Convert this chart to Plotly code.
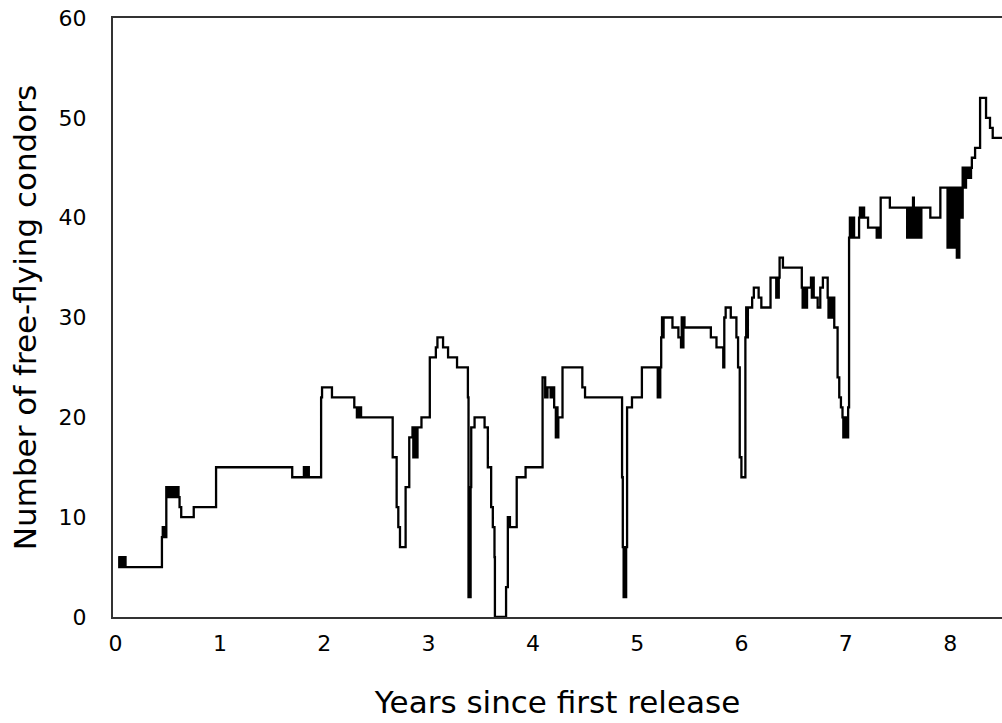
import plotly.graph_objects as go

# Years since first release (start of each step)
years = [
    0.025, 0.035, 0.045, 0.055, 0.065, 0.075, 0.085, 0.095, 0.105,
    0.444, 0.452, 0.460, 0.468, 0.476,
    0.486, 0.496, 0.506, 0.516, 0.526, 0.536, 0.546, 0.556, 0.566, 0.576, 0.584,
    0.603, 0.613, 0.629, 0.749, 0.963, 1.693,
    1.805, 1.815, 1.825, 1.835, 1.845, 1.852,
    1.970, 1.979, 2.074, 2.288,
    2.313, 2.323, 2.333, 2.343, 2.353,
    2.656, 2.694, 2.710, 2.726, 2.780, 2.815,
    2.846, 2.854, 2.862, 2.870, 2.878, 2.886, 2.894,
    2.932, 3.012, 3.070, 3.085, 3.139, 3.187, 3.273,
    3.377, 3.383, 3.390, 3.397, 3.403, 3.409,
    3.441, 3.537, 3.568, 3.600, 3.616, 3.632, 3.636,
    3.743, 3.760, 3.780, 3.845, 3.930,
    4.093, 4.118, 4.140, 4.170, 4.185, 4.204,
    4.220, 4.228, 4.236, 4.244,
    4.284, 4.474, 4.500,
    4.855, 4.862, 4.870, 4.878, 4.886, 4.894, 4.903,
    4.950, 5.045,
    5.197, 5.205, 5.213, 5.221, 5.230, 5.238, 5.246, 5.253,
    5.338, 5.395, 5.420, 5.427, 5.435, 5.443, 5.453,
    5.706, 5.760, 5.825, 5.835, 5.848, 5.897, 5.951, 5.967, 5.983, 5.999,
    6.037, 6.045, 6.053, 6.061,
    6.102, 6.118, 6.164, 6.190, 6.278,
    6.333, 6.341, 6.349, 6.357,
    6.365, 6.397,
    6.578, 6.586, 6.594, 6.602, 6.610, 6.618, 6.628,
    6.666, 6.674, 6.682, 6.692,
    6.730, 6.755, 6.780,
    6.826, 6.834, 6.842, 6.850, 6.858, 6.866, 6.874,
    6.889, 6.921, 6.937, 6.953,
    6.968, 6.976, 6.984, 6.992, 7.000, 7.008,
    7.022,
    7.031, 7.039, 7.047, 7.055, 7.063, 7.071, 7.079,
    7.127, 7.135, 7.143, 7.151, 7.159, 7.167, 7.175,
    7.213,
    7.296, 7.304, 7.312, 7.320, 7.328,
    7.334, 7.422,
    7.588, 7.596, 7.604, 7.612, 7.620, 7.628, 7.636, 7.644, 7.652, 7.660,
    7.668, 7.676, 7.684, 7.692, 7.700, 7.708, 7.716, 7.724,
    7.810, 7.906,
    7.975, 7.983, 7.991, 7.999, 8.007, 8.015, 8.023, 8.031, 8.039, 8.047,
    8.055, 8.064, 8.072, 8.080, 8.088, 8.096, 8.104, 8.112,
    8.120, 8.128, 8.136, 8.144, 8.152, 8.160, 8.168, 8.176, 8.184, 8.192, 8.200,
    8.208, 8.239, 8.287, 8.344, 8.382, 8.408, 8.497,
]

# Number of free-flying condors at each step
condors = [
    6, 5, 6, 5, 6, 5, 6, 5, 5,
    8, 9, 8, 9, 8,
    13, 12, 13, 12, 13, 12, 13, 12, 13, 12, 13,
    12, 11, 10, 11, 15, 14,
    15, 14, 15, 14, 15, 14,
    22, 23, 22, 21,
    20, 21, 20, 21, 20,
    16, 11, 9, 7, 13, 18,
    19, 16, 19, 16, 19, 16, 19,
    20, 26, 27, 28, 27, 26, 25,
    22, 2, 13, 2, 13, 19,
    20, 19, 15, 11, 9, 6, 0,
    3, 10, 9, 14, 15,
    24, 22, 23, 22, 23, 21,
    18, 21, 18, 20,
    25, 23, 22,
    14, 7, 2, 7, 2, 7, 21,
    22, 25,
    22, 25, 22, 25, 28, 30, 28, 30,
    29, 28, 27, 30, 27, 30, 29,
    28, 27, 25, 30, 31, 30, 28, 25, 16, 14,
    28, 31, 28, 31,
    32, 33, 32, 31, 34,
    32, 34, 32, 34,
    36, 35,
    33, 31, 33, 31, 33, 31, 33,
    34, 32, 34, 32,
    31, 33, 34,
    32, 30, 32, 30, 32, 30, 32,
    29, 24, 22, 21,
    20, 18, 20, 18, 20, 18,
    21,
    38, 40, 38, 40, 38, 40, 38,
    40, 41, 40, 41, 40, 41, 40,
    39,
    38, 39, 38, 39, 38,
    42, 41,
    38, 41, 38, 41, 38, 41, 38, 42, 38, 41,
    38, 41, 38, 41, 38, 41, 38, 41,
    40, 43,
    37, 43, 37, 43, 37, 43, 37, 43, 37, 43,
    37, 36, 43, 36, 43, 40, 43, 40,
    45, 43, 45, 43, 45, 44, 45, 44, 45, 44, 45,
    46, 47, 52, 50, 49, 48, 48,
]

x_ticks = [0, 1, 2, 3, 4, 5, 6, 7, 8]
y_ticks = [0, 10, 20, 30, 40, 50, 60]
x_title = "Years since first release"
y_title = "Number of free-flying condors"

FONT = "DejaVu Sans"

fig = go.Figure()
fig.add_trace(go.Scatter(
    x=years, y=condors, mode="lines",
    line=dict(shape="hv", color="black", width=2.3),
    hoverinfo="x+y", showlegend=False,
))

fig.update_layout(
    width=1002, height=723,
    margin=dict(l=113, r=0, t=18, b=106),
    paper_bgcolor="white", plot_bgcolor="white",
    font=dict(family=FONT, color="black"),
)
fig.update_xaxes(
    range=[-0.025, 8.497],
    tickvals=x_ticks, ticktext=[str(v) for v in x_ticks],
    showgrid=False, zeroline=False,
    showline=True, linecolor="#333333", linewidth=2, mirror=True,
    ticks="outside", ticklen=6, tickcolor="rgba(0,0,0,0)",
    tickfont=dict(family=FONT, size=22, color="black"),
    title=dict(text=x_title, font=dict(family=FONT, size=31, color="black"), standoff=36),
)
fig.update_yaxes(
    range=[0, 60],
    tickvals=y_ticks, ticktext=[str(v) for v in y_ticks],
    showgrid=False, zeroline=False,
    showline=True, linecolor="#333333", linewidth=2, mirror=False,
    ticks="outside", ticklen=20, tickcolor="rgba(0,0,0,0)",
    tickfont=dict(family=FONT, size=22, color="black"),
    title=dict(text=y_title, font=dict(family=FONT, size=31, color="black"), standoff=13),
)

fig.write_html("out.html")
